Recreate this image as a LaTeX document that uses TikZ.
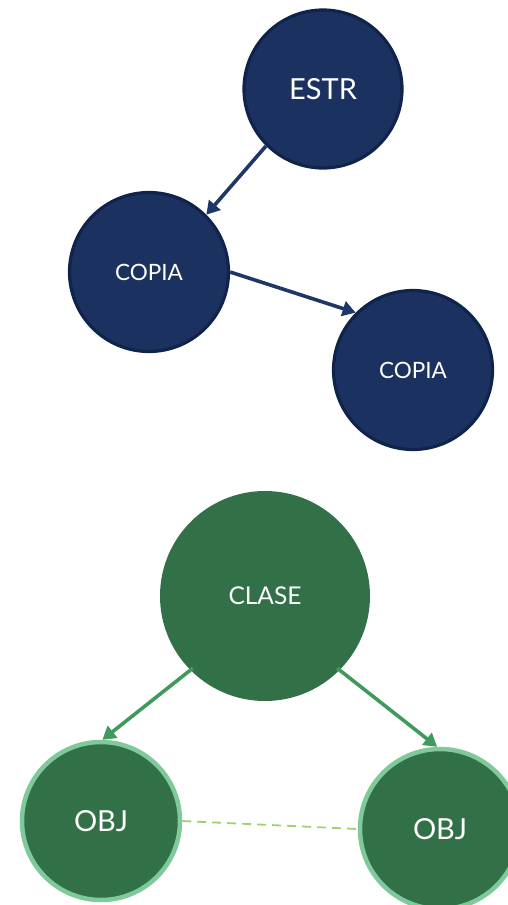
\documentclass[tikz,border=0pt]{standalone}
\usepackage{fontspec}
\setmainfont{Lato}
\usetikzlibrary{arrows.meta,calc}
\definecolor{navyfill}{HTML}{1B3160}
\definecolor{navyline}{HTML}{10234A}
\definecolor{navyarrow}{HTML}{1E3766}
\definecolor{greenfill}{HTML}{327048}
\definecolor{greenarrow}{HTML}{3F9A5C}
\definecolor{greenring}{HTML}{80C99B}
\definecolor{dashgreen}{HTML}{A3CF72}
\tikzset{
  navynode/.style={circle, fill=navyfill, draw=navyline, line width=3.2pt, text=white, inner sep=0pt},
  clasenode/.style={circle, fill=greenfill, text=white, inner sep=0pt},
  objnode/.style={circle, fill=greenfill, draw=greenring, line width=4.5pt, text=white, inner sep=0pt},
  navyarr/.style={draw=navyarrow, line width=3.6pt, -{Triangle[length=13pt,width=15pt]}},
  greenarr/.style={draw=greenarrow, line width=3.6pt, -{Triangle[length=13pt,width=15pt]}},
  dashlink/.style={draw=dashgreen, line width=1.8pt, dash pattern=on 9pt off 6pt}
}
\begin{document}
\begin{tikzpicture}[x=1pt,y=-1pt]
\useasboundingbox (0,0) rectangle (508,905);
\clip (0,0) rectangle (508,905);
\node[navynode, minimum size=158pt, font=\fontsize{29}{31}\selectfont] (estr) at (323,89) {ESTR};
\node[navynode, minimum size=159pt, font=\fontsize{22.5}{24}\selectfont] (copia1) at (149,272) {COPIA};
\node[navynode, minimum size=159pt, font=\fontsize{22.5}{24}\selectfont] (copia2) at (413,370) {COPIA};
\node[clasenode, minimum size=210pt, font=\fontsize{24.5}{26}\selectfont] (clase) at (265,596) {CLASE};
\node[objnode, minimum size=158pt, font=\fontsize{29}{31}\selectfont] (obj1) at (101,821) {OBJ};
\node[objnode, minimum size=160pt, font=\fontsize{29}{31}\selectfont] (obj2) at (440,829) {OBJ};
\draw[navyarr] (estr.{-135}) -- (copia1.{45});
\draw[navyarr] (copia1.{0}) -- (copia2.{135});
\draw[greenarr] ($(clase.center)!0.97!(clase.{-135})$) -- (obj1.{89});
\draw[greenarr] ($(clase.center)!0.97!(clase.{-45})$) -- (obj2.{92});
\draw[dashlink] (obj1.east) -- (obj2.west);
\end{tikzpicture}
\end{document}
